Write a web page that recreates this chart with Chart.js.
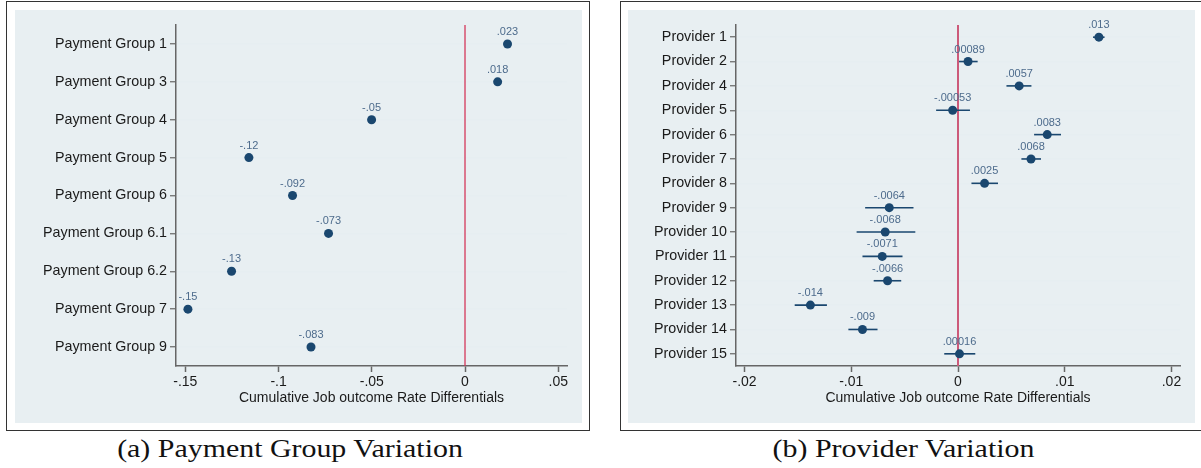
<!DOCTYPE html>
<html lang="en">
<head>
<meta charset="UTF-8">
<title>Job outcome rate differentials</title>
<script src="https://cdn.jsdelivr.net/npm/chart.js@4/dist/chart.umd.min.js"></script>
<style>
  html, body { margin: 0; padding: 0; background: #fff; }
  body { width: 1201px; height: 468px; position: relative; overflow: hidden; }
  .frame { position: absolute; border: 1.5px solid #333; box-sizing: border-box; background: #fff; }
  .inner { position: absolute; background: #e8eff2; }
  canvas { position: absolute; }
  .cap { position: absolute; font-family: "Liberation Serif", serif; font-size: 26px; color: #111;
         text-align: center; white-space: nowrap; transform: scaleX(1.15); transform-origin: center; }
</style>
</head>
<body>
  <div class="frame" style="left:6px;top:1px;width:584px;height:430px"></div>
  <div class="inner" style="left:15px;top:10px;width:567px;height:413px"></div>
  <canvas id="left" width="567" height="413" style="left:15px;top:10px"></canvas>
  <div class="cap" style="left:0;width:580px;top:434px">(a) Payment Group Variation</div>

  <div class="frame" style="left:620px;top:1px;width:600px;height:430px"></div>
  <div class="inner" style="left:628px;top:10px;width:567px;height:413px"></div>
  <canvas id="right" width="567" height="413" style="left:628px;top:10px"></canvas>
  <div class="cap" style="left:623px;width:561px;top:434px">(b) Provider Variation</div>

<script>
// (a) payment groups
const groupNames = ['Payment Group 1', 'Payment Group 3', 'Payment Group 4', 'Payment Group 5', 'Payment Group 6',
                    'Payment Group 6.1', 'Payment Group 6.2', 'Payment Group 7', 'Payment Group 9'];
const groupValues = [0.0228, 0.0175, -0.0501, -0.1159, -0.0925, -0.0732, -0.1252, -0.1486, -0.0826];
const groupText   = ['.023', '.018', '-.05', '-.12', '-.092', '-.073', '-.13', '-.15', '-.083'];
const groupTicks  = [-0.15, -0.1, -0.05, 0, 0.05];
const groupTickText = ['-.15', '-.1', '-.05', '0', '.05'];

// (b) providers
const providerNames = ['Provider 1', 'Provider 2', 'Provider 4', 'Provider 5', 'Provider 6', 'Provider 7', 'Provider 8',
                       'Provider 9', 'Provider 10', 'Provider 11', 'Provider 12', 'Provider 13', 'Provider 14', 'Provider 15'];
const providerValues = [0.0132, 0.00094, 0.00573, -0.0005, 0.00836, 0.00684, 0.00249,
                        -0.00644, -0.00682, -0.0071, -0.0066, -0.01383, -0.00895, 0.00014];
const providerLow  = [0.01265, 0.0001, 0.00454, -0.00205, 0.00713, 0.00594, 0.00126,
                      -0.0087, -0.0095, -0.00895, -0.0079, -0.0153, -0.01027, -0.00129];
const providerHigh = [0.01373, 0.00184, 0.00688, 0.00112, 0.00965, 0.00778, 0.00375,
                      -0.00417, -0.004, -0.0052, -0.00532, -0.01228, -0.00754, 0.00162];
const providerText = ['.013', '.00089', '.0057', '-.00053', '.0083', '.0068', '.0025',
                      '-.0064', '-.0068', '-.0071', '-.0066', '-.014', '-.009', '.00016'];
const providerTicks = [-0.02, -0.01, 0, 0.01, 0.02];
const providerTickText = ['-.02', '-.01', '0', '.01', '.02'];

const NAVY = '#1a476f';
const FONT = '"Liberation Sans", Arial, sans-serif';

// zero line, error bars and value labels
const decor = {
  id: 'decor',
  beforeDatasetsDraw(chart, args, o) {
    const { ctx, chartArea: a, scales: { x, y } } = chart;
    ctx.save();
    const zx = x.getPixelForValue(0);
    ctx.strokeStyle = o.zeroColor; ctx.lineWidth = o.zeroWidth;
    ctx.beginPath(); ctx.moveTo(zx, a.top); ctx.lineTo(zx, a.bottom); ctx.stroke();
    if (o.lo) {
      ctx.strokeStyle = NAVY; ctx.lineWidth = 1.6;
      o.lo.forEach((lo, i) => {
        const py = y.getPixelForValue(i);
        ctx.beginPath();
        ctx.moveTo(x.getPixelForValue(lo), py);
        ctx.lineTo(x.getPixelForValue(o.hi[i]), py);
        ctx.stroke();
      });
    }
    ctx.restore();
  },
  afterDatasetsDraw(chart, args, o) {
    const { ctx } = chart;
    const pts = chart.getDatasetMeta(0).data;
    ctx.save();
    ctx.font = '11px ' + FONT;
    ctx.fillStyle = '#4d6b8c';
    ctx.textAlign = 'center'; ctx.textBaseline = 'middle';
    pts.forEach((p, i) => ctx.fillText(o.text[i], p.x, p.y - 12));
    ctx.restore();
  }
};

function makeChart(id, names, values, ticks, tickText, min, max, yWidth, deco, radius) {
  new Chart(document.getElementById(id), {
    type: 'scatter',
    data: {
      datasets: [{
        data: values.map((v, i) => ({ x: v, y: names[i] })),
        backgroundColor: NAVY, borderWidth: 0, pointRadius: radius, pointHoverRadius: radius
      }]
    },
    plugins: [decor],
    options: {
      responsive: false, animation: false,
      layout: { padding: { top: 15, right: 15, left: 0, bottom: 16 } },
      plugins: { legend: { display: false }, tooltip: { enabled: false }, decor: deco },
      scales: {
        x: {
          type: 'linear', min: min, max: max,
          afterBuildTicks: s => { s.ticks = ticks.map(v => ({ value: v })); },
          afterFit: s => { s.height = 41; },
          ticks: { callback: (v, i) => tickText[i], color: '#1a1a1a', font: { family: FONT, size: 14 }, padding: 2, maxRotation: 0 },
          grid: { drawOnChartArea: false, drawTicks: true, tickLength: 6, tickColor: '#666', tickWidth: 1.5 },
          border: { color: '#666', width: 1.5 },
          title: { display: true, text: 'Cumulative Job outcome Rate Differentials', color: '#1a1a1a',
                   font: { family: FONT, size: 14 }, padding: 0 }
        },
        y: {
          type: 'category', labels: names, offset: true,
          afterFit: s => { s.width = yWidth; },
          ticks: { color: '#1a1a1a', font: { family: FONT, size: 14.3 }, padding: 3 },
          grid: { offset: false, color: '#e6eef1', lineWidth: 1.5, drawTicks: true, tickLength: 6, tickColor: '#666', tickWidth: 1.2 },
          border: { color: '#666', width: 1.5 }
        }
      }
    }
  });
}

makeChart('left', groupNames, groupValues, groupTicks, groupTickText, -0.155, 0.0547, 161,
          { zeroColor: '#d4375a', zeroWidth: 1.3, text: groupText }, 4.5);
makeChart('right', providerNames, providerValues, providerTicks, providerTickText, -0.0208, 0.0208, 108,
          { zeroColor: '#cc5a7a', zeroWidth: 2, text: providerText, lo: providerLow, hi: providerHigh }, 4.5);
</script>
</body>
</html>
